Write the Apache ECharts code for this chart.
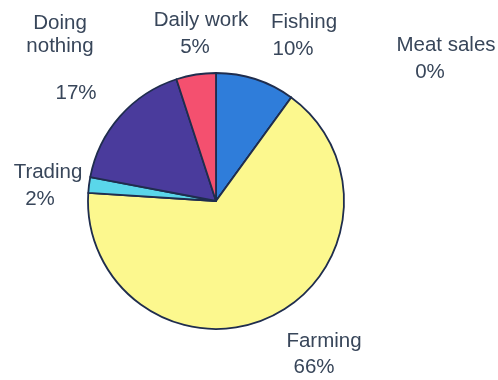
<!DOCTYPE html>
<html>
<head>
<meta charset="utf-8">
<script src="https://cdn.jsdelivr.net/npm/echarts@6/dist/echarts.min.js"></script>
<style>
  html, body { margin: 0; padding: 0; background: #ffffff; }
  #chart { width: 498px; height: 380px; }
</style>
</head>
<body>
<div id="chart"></div>
<script>
// Activity shares, clockwise from twelve o'clock
const categories = ['Fishing', 'Meat sales', 'Farming', 'Trading', 'Doing nothing', 'Daily work'];
const shares = [10, 0, 66, 2, 17, 5];
const sliceColors = ['#2f7dda', '#c0504d', '#fcf88e', '#5ad6ea', '#4a3b9c', '#f4506f'];

// How each category name breaks over lines in its label
const labelNames = ['Fishing', 'Meat sales', 'Farming', 'Trading', 'Doing\nnothing\n', 'Daily work'];
// Label placement: centre x and centre y of the first line
const labelAnchors = [[304, 22], [446, 45], [324, 341], [48, 172], [60, 23], [201, 20]];
// Sideways offset of the percentage line relative to the name
const pctNudge = [-11, -16, -10, -8, 16, -6];
const lineHeights = [27, 27, 26, 27, 23.5, 27];

const textColor = '#38465a';
const font = '"Liberation Sans", Arial, sans-serif';
const fontSize = 20.5;

const chart = echarts.init(document.getElementById('chart'), null, { renderer: 'canvas' });

const data = categories.map((name, i) => {
  const lh = lineHeights[i];
  const n = pctNudge[i];
  const pad = n >= 0 ? [0, 0, 0, 2 * n] : [0, -2 * n, 0, 0];
  const nameLines = labelNames[i].split('\n').map(s => s ? '{n|' + s + '}' : '{n| }').join('\n');
  return {
    name,
    value: shares[i],
    itemStyle: { color: sliceColors[i] },
    label: {
      formatter: nameLines + '\n{p|' + shares[i] + '%}',
      rich: {
        n: { fontSize, fontFamily: font, color: textColor, lineHeight: lh, align: 'center' },
        p: { fontSize, fontFamily: font, color: textColor, lineHeight: lh, align: 'center', padding: pad }
      }
    }
  };
});

chart.setOption({
  animation: false,
  backgroundColor: '#ffffff',
  series: [{
    type: 'pie',
    center: [216, 201],
    radius: 128,
    startAngle: 90,
    clockwise: true,
    avoidLabelOverlap: false,
    minShowLabelAngle: 0,
    data,
    itemStyle: { borderColor: '#1f2d4e', borderWidth: 1.8 },
    label: { show: true, position: 'outside', color: textColor, fontFamily: font, fontSize },
    labelLine: { show: false },
    labelLayout: function (params) {
      const i = params.dataIndex;
      const a = labelAnchors[i];
      return {
        x: a[0],
        y: a[1] - lineHeights[i] / 2,
        align: 'center',
        verticalAlign: 'top'
      };
    },
    emphasis: { disabled: true }
  }]
});
</script>
</body>
</html>
